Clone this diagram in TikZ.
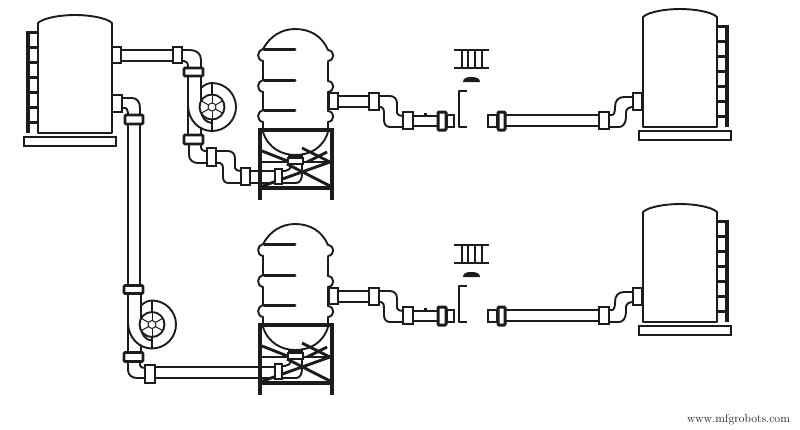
\documentclass[tikz,border=0pt]{standalone}
\usepackage{tikz}
\definecolor{pipeink}{RGB}{28,28,28}
\tikzset{
  pipeline/.style={draw=pipeink, line width=1.9pt, line cap=round, line join=round},
  flange/.style={draw=pipeink, fill=white, line width=1.9pt},
  collar/.style={draw=pipeink, fill=white, line width=2.8pt, rounded corners=1pt},
  beam/.style={draw=pipeink, line width=4.4pt},
  brace/.style={draw=pipeink, line width=2.9pt},
  pics/tankshape/.style={code={
    % Ladder
    \draw[draw=pipeink, line width=3.6pt] (-47,-102) -- (-47,0);
    \foreach \rung in {0,...,6}
      \draw[draw=pipeink, line width=3pt] (-48,-101+15*\rung) -- (-37,-101+15*\rung);
    % Shell and base
    \draw[pipeline, fill=white] (-37,0) -- (-37,-110) .. controls (-32,-115) and (-15,-118) .. (0,-118)
      .. controls (15,-118) and (32,-115) .. (37,-110) -- (37,0) -- cycle;
    \draw[flange, line width=2.3pt] (-51,4) rectangle (41,13);
  }},
  pics/fanunit/.style={code={
    % Pipe and volute
    \draw[pipeline] (-24,-31) -- (-24,28);
    \draw[pipeline] (-11,-31) -- (-11,3) .. controls (-11,10) and (-6,16) .. (0,16);
    \draw[pipeline] (-11,21) -- (-11,28);
    \draw[pipeline] (-24,-2) .. controls (-24,13) and (-13,24) .. (0,24)
      .. controls (13.25,24) and (24,13.25) .. (24,0)
      .. controls (24,-13.25) and (13.25,-24) .. (0,-24)
      .. controls (-4,-24) and (-8,-22) .. (-11,-19);
    \draw[pipeline, line width=1.1pt] (0,-24) -- (0,24);
    % Impeller
    \draw[pipeline, fill=white] (0,0) circle[radius=12.5pt];
    \foreach \spoke in {30,90,...,330}
      \draw[pipeline, line width=1pt] (\spoke:4pt) -- (\spoke:12.5pt);
    \draw[pipeline, line width=1pt, fill=white] (0,0) circle[radius=4pt];
    % Collars
    \draw[collar] (-28,-39) rectangle (-9,-31);
    \draw[collar] (-28,28) rectangle (-9,37);
  }}
}

\begin{document}
\begin{tikzpicture}[x=1pt, y=-1pt]
    \useasboundingbox (0,0) rectangle (800,429);

    % Supply tank
    \pic at (75,133) {tankshape};

    % Upper run to first fan
    \draw[pipeline] (121,50) -- (173,50);
    \draw[pipeline] (121,61) -- (173,61);
    \draw[flange] (112,47) rectangle (121,63);
    \draw[pipeline] (182,50) -- (190,50) .. controls (197,50) and (201,54) .. (201,60) -- (201,68);
    \draw[pipeline] (182,61) -- (184,61) .. controls (187,61) and (188,63) .. (188,68);
    \draw[flange] (173,47) rectangle (182,63);
    \pic at (212,107) {fanunit};

    % Lower run to second fan
    \draw[pipeline] (122,98) -- (132,98) .. controls (137,98) and (140,102) .. (140,108) -- (140,115);
    \draw[pipeline] (122,108) -- (125,108) .. controls (127,108) and (128,111) .. (128,115);
    \draw[flange] (112,95) rectangle (122,112);
    \draw[pipeline] (128,124) -- (128,286);
    \draw[pipeline] (140,124) -- (140,286);
    \draw[collar] (125,115) rectangle (143,124);
    \pic at (152,324.5) {fanunit};

    % Fan outlets
    \draw[pipeline] (189,144) -- (189,155) .. controls (189,160) and (193,163) .. (198,163) -- (207,163);
    \draw[pipeline] (201,144) -- (201,148) .. controls (201,150) and (203,151) .. (207,151);
    \draw[pipeline] (216,151) -- (228,151) .. controls (232,151) and (235,154) .. (235,158) -- (235,168) .. controls (235,170) and (238,171) .. (241,171);
    \draw[pipeline] (216,163) -- (220,163) .. controls (222,163) and (223,165) .. (223,170) -- (223,177) .. controls (223,181) and (225,183) .. (229,183) -- (241,183);
    \draw[flange] (207,148) rectangle (216,166);
    \draw[flange] (241,168) rectangle (250,185);
    \draw[pipeline] (250,171) -- (276,171);
    \draw[pipeline] (250,183) -- (276,183);
    \draw[pipeline] (128,361) -- (128,370) .. controls (128,375) and (132,378) .. (137,378) -- (145,378);
    \draw[pipeline] (140,361) -- (140,365) .. controls (140,367) and (142,368) .. (145,368);
    \draw[pipeline] (155,367) -- (276,367);
    \draw[pipeline] (155,378) -- (276,378);
    \draw[flange] (145,365) rectangle (155,383);

    % Vessel rows
    \foreach \dy in {0,195} {
      \begin{scope}[shift={(0,\dy)}]
        % Vessel
        \draw[pipeline] (263,49) .. controls (270,36) and (282,29) .. (295,29) .. controls (310,29) and (322,36) .. (328,50);
        \foreach \ry in {49,80,110} {
          \draw[pipeline] (263,\ry) .. controls (257,\ry+1) and (256,\ry+11) .. (263,\ry+12);
          \draw[pipeline] (328,\ry+1) .. controls (335,\ry+2) and (335,\ry+11) .. (328,\ry+12);
          \draw[draw=pipeink, line width=3pt, line cap=round] (264,\ry) -- (295,\ry);
        }
        \draw[pipeline] (263,61) -- (263,80) (263,92) -- (263,110) (263,122) -- (263,131);
        \draw[pipeline] (328,62) -- (328,81) (328,92) -- (328,111) (328,122) -- (328,131);
        \draw[pipeline] (263,132) .. controls (268,148) and (282,155) .. (295,155) .. controls (310,155) and (323,148) .. (328,132);
        % Inlet elbow and drain
        \draw[pipeline] (282,171) -- (285,171) .. controls (288,171) and (291,169) .. (291,164);
        \draw[pipeline] (282,183) -- (296,183) .. controls (300,183) and (302,179) .. (302,174) -- (302,164);
        % Stand
        \draw[beam] (260,128) -- (260,200);
        \draw[beam] (332,128) -- (332,200);
        \draw[beam] (258,130) -- (334,130);
        \draw[beam] (258,188) -- (334,188);
        \draw[brace] (260,162) -- (332,162);
        \draw[brace] (262,151) -- (290,162);
        \draw[brace] (327,152) -- (307,162);
        \draw[brace] (302,148) -- (330,162);
        \draw[brace] (260,187) -- (330,162);
        \draw[brace] (287,164) -- (332,187);
        \draw[flange] (275,169) rectangle (282,184);
        \draw[flange, line width=1.6pt] (288,158) rectangle (303,164);
        \draw[draw=pipeink, line width=3.4pt] (288,156) -- (303,156);
        % Outlet pipe
        \draw[pipeline] (338,96) -- (369,96);
        \draw[pipeline] (338,107) -- (369,107);
        \draw[flange] (329,93) rectangle (338,109);
        \draw[pipeline] (379,96) -- (390,96) .. controls (394,96) and (397,99) .. (397,103) -- (397,113) .. controls (397,115) and (400,116) .. (403,116);
        \draw[pipeline] (379,107) -- (381,107) .. controls (383,107) and (384,109) .. (384,114) -- (384,120) .. controls (384,124) and (386,127) .. (390,127) -- (403,127);
        \draw[flange] (369,93) rectangle (379,110);
        \draw[pipeline] (413,116) -- (437,116);
        \draw[pipeline] (413,126) -- (437,126);
        \draw[flange] (403,112) rectangle (413,129);
        \draw[draw=pipeink, line width=1.6pt] (424,114) -- (427,114);
        \draw[collar, line width=3pt] (438,112) rectangle (446,130);
        \draw[flange, line width=1.5pt] (447,115) rectangle (454,127);
        % Open gap
        \draw[pipeline, line width=1.3pt, line cap=butt] (467,91) -- (459,91) -- (459,127) -- (467,127);
        \draw[draw=pipeink, line width=1.3pt] (454,50) -- (489,50);
        \draw[draw=pipeink, line width=1.3pt] (454,68) -- (489,68);
        \foreach \bar in {462,468,475,482}
          \draw[draw=pipeink, line width=1.3pt] (\bar,50) -- (\bar,68);
        \fill[pipeink] (463,82) .. controls (463,78) and (467,77) .. (471,77) .. controls (476,77) and (480,78) .. (480,82) -- cycle;
        % Far side pipe
        \draw[flange, line width=1.5pt] (488,115) rectangle (497,127);
        \draw[collar, line width=3pt] (498,112) rectangle (505,130);
        \draw[pipeline] (506,115) -- (599,115);
        \draw[pipeline] (506,126) -- (599,126);
        \draw[pipeline] (609,115) -- (612,115) .. controls (614,115) and (615,112) .. (615,107) .. controls (615,101) and (618,97) .. (624,97) -- (633,97);
        \draw[pipeline] (609,127) -- (619,127) .. controls (623,127) and (626,123) .. (626,117) -- (626,112) .. controls (626,109) and (629,107) .. (633,107);
        \draw[flange] (599,112) rectangle (609,129);
        \draw[flange] (633,93) rectangle (642,110);
        % Receiving tank
        \pic[xscale=-1] at (680,127) {tankshape};
      \end{scope}
    }

    % Watermark
    \node[font=\fontsize{11.8}{12}\selectfont, text=pipeink, inner sep=0pt] (mark) at (738.5,420) {www.mfgrobots.com};
\end{tikzpicture}
\end{document}
